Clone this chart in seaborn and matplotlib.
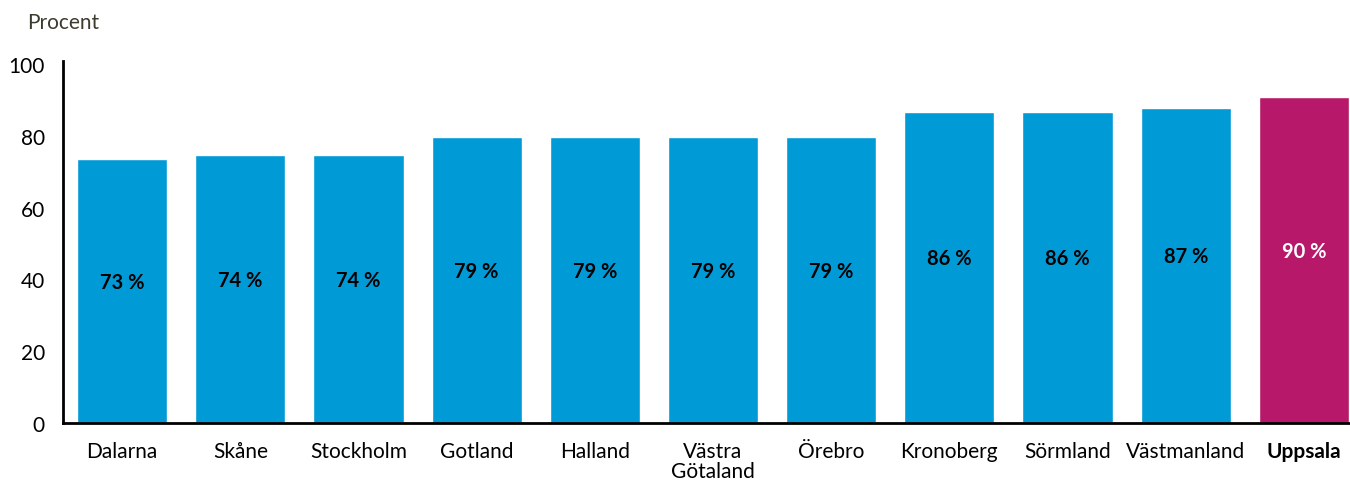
import matplotlib
matplotlib.use("Agg")
import matplotlib.pyplot as plt
import seaborn as sns
import pandas as pd

regions = ["Dalarna", "Skåne", "Stockholm", "Gotland", "Halland", "Västra\nGötaland",
           "Örebro", "Kronoberg", "Sörmland", "Västmanland", "Uppsala"]
values = [73.6, 74.7, 74.7, 79.7, 79.7, 79.7, 79.7, 86.7, 86.7, 87.8, 90.8]
labels = ["73 %", "74 %", "74 %", "79 %", "79 %", "79 %", "79 %", "86 %", "86 %", "87 %", "90 %"]
highlight = "Uppsala"

blue = "#009bd7"
magenta = "#b8186a"

sns.set_style("white")
plt.rcParams["font.family"] = ["Lato", "DejaVu Sans"]

df = pd.DataFrame({"region": regions, "value": values})
palette = {r: (magenta if r == highlight else blue) for r in regions}

fig = plt.figure(figsize=(13.5, 4.81), dpi=100)
ax = fig.add_axes([0.0467, 0.1185, 0.9533, 0.7526])

sns.barplot(data=df, x="region", y="value", hue="region", palette=palette,
            width=0.763, saturation=1, legend=False, ax=ax)

# value labels inside the bars
for i, (r, v, lab) in enumerate(zip(regions, values, labels)):
    col = "white" if r == highlight else "black"
    ax.text(i, v / 2 + 2.5, lab, ha="center", va="center", fontsize=14.5,
            fontweight="bold", color=col)

ax.set_ylim(0, 100.8)
ax.set_xlim(-0.5, 10.39)
ax.set_yticks([0, 20, 40, 60, 80, 100])
ax.set_xlabel("")
ax.set_ylabel("")
ax.tick_params(axis="both", length=0, labelsize=15, colors="black")
ax.tick_params(axis="y", pad=13)
ax.tick_params(axis="x", pad=13)
for lbl in ax.get_xticklabels():
    lbl.set_linespacing(1.0)
    if lbl.get_text() == highlight:
        lbl.set_fontweight("bold")

sns.despine(ax=ax)
for side in ["left", "bottom"]:
    ax.spines[side].set_linewidth(2)
    ax.spines[side].set_color("black")

fig.text(0.02, 0.953, "Procent", fontsize=15, color="#3b3b2e", ha="left", va="center")

fig.savefig("out.png", dpi=100)
